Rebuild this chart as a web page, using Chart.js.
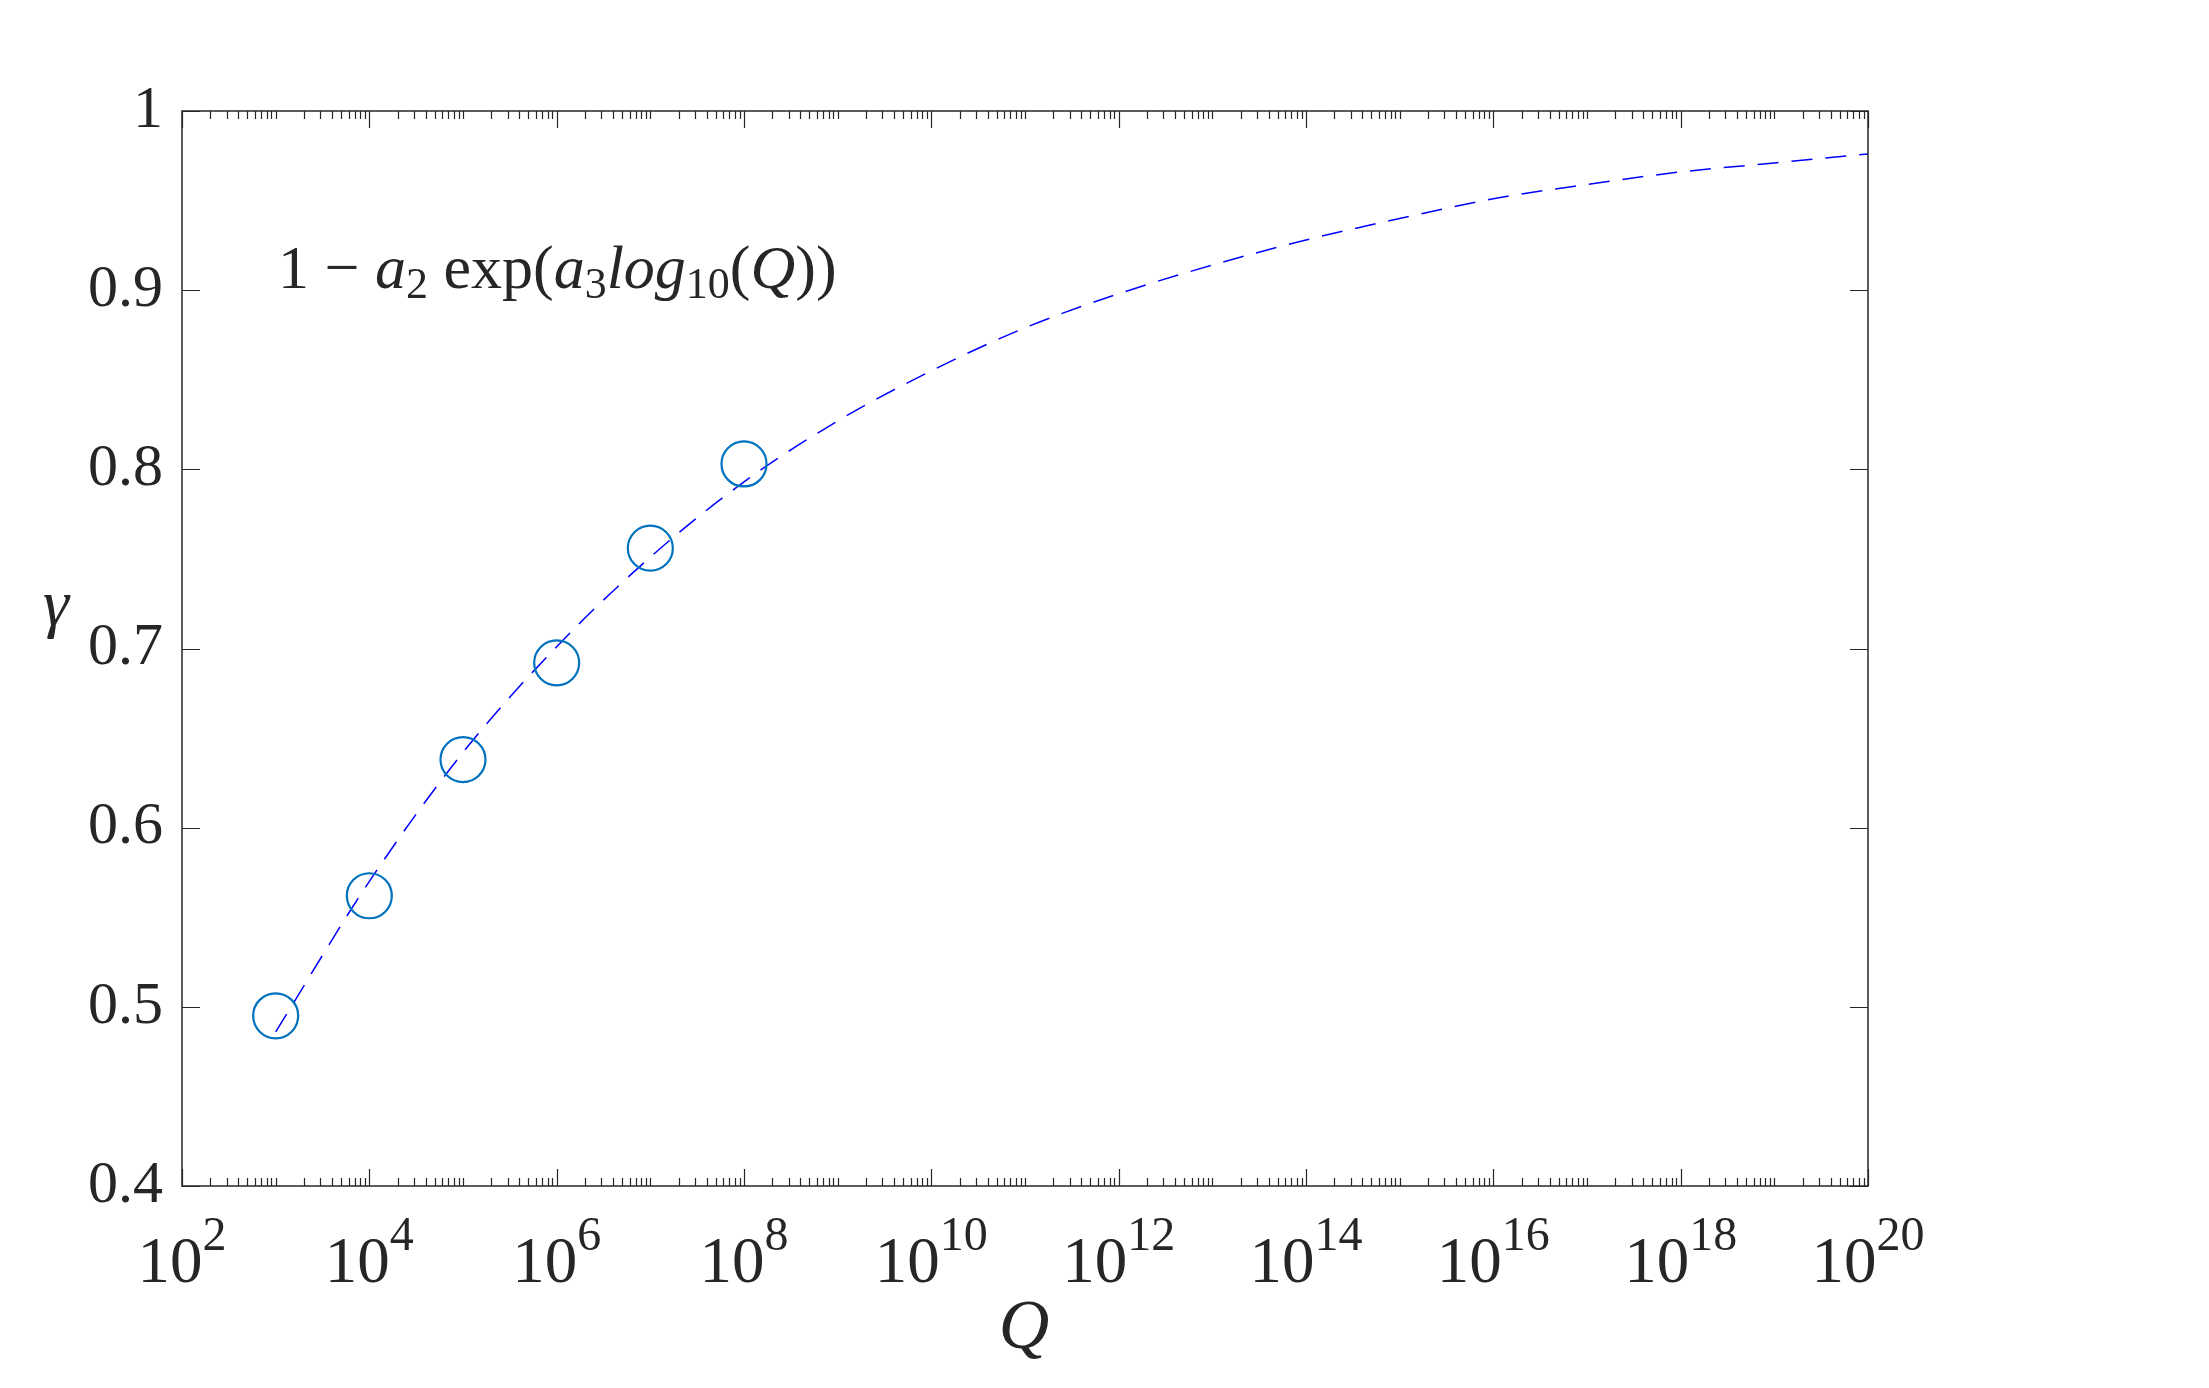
<!DOCTYPE html>
<html>
<head>
<meta charset="utf-8">
<script src="https://cdn.jsdelivr.net/npm/chart.js@4.4.0/dist/chart.umd.min.js"></script>
<style>
  html, body { margin: 0; padding: 0; background: #fff; }
  canvas { display: block; }
</style>
</head>
<body>
<canvas id="chart" width="2209" height="1388"></canvas>
<script>
// Measured points (circles)
const sampleQ = [1e3, 1e4, 1e5, 1e6, 1e7, 1e8];
const sampleGamma = [0.495, 0.562, 0.638, 0.692, 0.756, 0.803];

// Fitted curve at each decade
const fitQ = [1e3, 1e4, 1e5, 1e6, 1e7, 1e8, 1e9, 1e10, 1e11, 1e12, 1e13, 1e14, 1e15, 1e16, 1e17, 1e18, 1e19, 1e20];
const fitGamma = [0.486, 0.570, 0.642, 0.701, 0.751, 0.793, 0.827, 0.855, 0.879, 0.898, 0.914, 0.928, 0.940, 0.951, 0.959, 0.966, 0.971, 0.976];

// Axis ticks
const yTicks = [0.4, 0.5, 0.6, 0.7, 0.8, 0.9, 1];
const xTickExps = [2, 4, 6, 8, 10, 12, 14, 16, 18, 20];

const ink = '#262626';
const serif = '"Liberation Serif", "Times New Roman", serif';

// Box, inward ticks, log tick labels, axis labels and the formula
const framePlugin = {
  id: 'frame',
  afterDraw(chart) {
    const { ctx, chartArea: a, scales: { x, y } } = chart;
    ctx.save();
    ctx.strokeStyle = ink;
    ctx.lineWidth = 1.5;
    ctx.strokeRect(a.left, a.top, a.right - a.left, a.bottom - a.top);

    ctx.lineWidth = 1.2;
    ctx.beginPath();
    yTicks.forEach(v => {
      const py = Math.round(y.getPixelForValue(v)) + 0.5;
      ctx.moveTo(a.left, py); ctx.lineTo(a.left + 18, py);
      ctx.moveTo(a.right, py); ctx.lineTo(a.right - 18, py);
    });
    for (let n = 2; n <= 20; n++) {
      for (let k = 1; k <= 9; k++) {
        if (n === 20 && k > 1) break;
        const px = Math.round(x.getPixelForValue(k * Math.pow(10, n))) + 0.5;
        const len = (k === 1 && n % 2 === 0) ? 17 : 8;
        ctx.moveTo(px, a.bottom); ctx.lineTo(px, a.bottom - len);
        ctx.moveTo(px, a.top); ctx.lineTo(px, a.top + len);
      }
    }
    ctx.stroke();

    // x tick labels as 10 with a raised exponent
    ctx.fillStyle = ink;
    ctx.textBaseline = 'alphabetic';
    ctx.textAlign = 'left';
    xTickExps.forEach(e => {
      const px = x.getPixelForValue(Math.pow(10, e));
      ctx.font = '65px ' + serif;
      const w1 = ctx.measureText('10').width;
      ctx.font = '48px ' + serif;
      const w2 = ctx.measureText(String(e)).width;
      const start = px - (w1 + w2) / 2;
      ctx.font = '65px ' + serif;
      ctx.fillText('10', start, 1282);
      ctx.font = '48px ' + serif;
      ctx.fillText(String(e), start + w1, 1250);
    });

    // axis labels
    ctx.textAlign = 'center';
    ctx.textBaseline = 'middle';
    ctx.font = 'italic 66px ' + serif;
    ctx.fillText('γ', 56, 608);
    ctx.font = 'italic 70px ' + serif;
    ctx.fillText('Q', 1024, 1330);

    // formula annotation
    const parts = [
      { t: '1 − ', f: '62px ' + serif, dy: 0 },
      { t: 'a', f: 'italic 62px ' + serif, dy: 0 },
      { t: '2', f: '44px ' + serif, dy: 10 },
      { t: ' exp(', f: '62px ' + serif, dy: 0 },
      { t: 'a', f: 'italic 62px ' + serif, dy: 0 },
      { t: '3', f: '44px ' + serif, dy: 10 },
      { t: 'log', f: 'italic 62px ' + serif, dy: 0 },
      { t: '10', f: '44px ' + serif, dy: 10 },
      { t: '(', f: '62px ' + serif, dy: 0 },
      { t: 'Q', f: 'italic 62px ' + serif, dy: 0 },
      { t: '))', f: '62px ' + serif, dy: 0 }
    ];
    ctx.textAlign = 'left';
    ctx.textBaseline = 'alphabetic';
    let cx = 278;
    parts.forEach(p => {
      ctx.font = p.f;
      ctx.fillText(p.t, cx, 288 + p.dy);
      cx += ctx.measureText(p.t).width;
    });
    ctx.restore();
  }
};

new Chart(document.getElementById('chart').getContext('2d'), {
  type: 'scatter',
  data: {
    datasets: [
      {
        label: 'data',
        data: sampleQ.map((q, i) => ({ x: q, y: sampleGamma[i] })),
        showLine: false,
        pointStyle: 'circle',
        pointRadius: 22.5,
        pointBorderWidth: 2.2,
        pointBorderColor: '#0072BD',
        pointBackgroundColor: 'rgba(0,0,0,0)'
      },
      {
        label: 'fit',
        data: fitQ.map((q, i) => ({ x: q, y: fitGamma[i] })),
        showLine: true,
        borderColor: '#0000FF',
        borderWidth: 1.5,
        borderDash: [21, 13],
        pointRadius: 0,
        cubicInterpolationMode: 'monotone'
      }
    ]
  },
  options: {
    responsive: false,
    devicePixelRatio: 1,
    animation: false,
    layout: { padding: { left: 0, top: 111, right: 341, bottom: 0 } },
    plugins: { legend: { display: false }, tooltip: { enabled: false } },
    scales: {
      x: {
        type: 'logarithmic',
        min: 1e2,
        max: 1e20,
        grid: { display: false },
        border: { display: false },
        ticks: { display: false },
        afterBuildTicks: s => { s.ticks = xTickExps.map(e => ({ value: Math.pow(10, e) })); },
        afterFit: s => { s.height = 202; }
      },
      y: {
        min: 0.4,
        max: 1,
        grid: { display: false, drawTicks: false },
        border: { display: false },
        afterBuildTicks: s => { s.ticks = yTicks.map(v => ({ value: v })); },
        ticks: {
          padding: 19,
          color: ink,
          font: { family: serif, size: 60 },
          callback: v => String(v)
        },
        afterFit: s => { s.width = 182; }
      }
    }
  },
  plugins: [framePlugin]
});
</script>
</body>
</html>
